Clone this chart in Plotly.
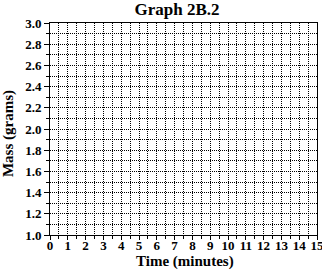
import plotly.graph_objects as go

# Axis values (empty graph paper)
x_tick_values = list(range(0, 16))
x_tick_labels = [str(v) for v in x_tick_values]
y_tick_values = [1.0, 1.2, 1.4, 1.6, 1.8, 2.0, 2.2, 2.4, 2.6, 2.8, 3.0]
y_tick_labels = ["1.0", "1.2", "1.4", "1.6", "1.8", "2.0", "2.2", "2.4", "2.6", "2.8", "3.0"]
x_range = [0, 15]
y_range = [1.0, 3.0]
x_title = "Time (minutes)"
y_title = "Mass (grams)"
chart_title = "Graph 2B.2"

FONT = "Liberation Serif"
DOT = "1px,1px"

fig = go.Figure()
fig.add_trace(go.Scatter(x=[], y=[], mode="markers", showlegend=False))

fig.update_layout(
    width=322, height=271,
    margin=dict(l=50, r=5, t=23, b=36),
    paper_bgcolor="white", plot_bgcolor="white",
    showlegend=False,
    title=dict(text=chart_title, x=0.476, xref="paper", xanchor="center",
               y=0.99, yref="container", yanchor="top",
               font=dict(family=FONT, size=17, color="black", weight="bold")),
    annotations=[
        dict(text=x_title, xref="paper", yref="paper", x=0.506, y=-0.123,
             xanchor="center", yanchor="middle", showarrow=False,
             font=dict(family=FONT, size=15, color="black", weight="bold")),
        dict(text=y_title, xref="paper", yref="paper", x=-0.158, y=0.48,
             xanchor="center", yanchor="middle", showarrow=False, textangle=-90,
             font=dict(family=FONT, size=15, color="black", weight="bold")),
    ],
)

common = dict(
    showline=True, linecolor="black", linewidth=1, mirror=True,
    ticks="outside", tickcolor="black", tickwidth=1,
    showgrid=True, gridcolor="black", gridwidth=1, griddash=DOT,
    zeroline=False, automargin=False, ticklabeloverflow="allow",
    tickfont=dict(family=FONT, size=13, color="black", weight="bold"),
)

fig.update_xaxes(
    range=x_range, tickmode="array", tickvals=x_tick_values, ticktext=x_tick_labels,
    ticklen=4, ticklabelstandoff=-6,
    minor=dict(tickmode="linear", tick0=0, dtick=0.5, ticks="outside", ticklen=3,
               tickcolor="black", showgrid=True, gridcolor="black", griddash=DOT, gridwidth=1),
    **common,
)
fig.update_yaxes(
    range=y_range, tickmode="array", tickvals=y_tick_values, ticktext=y_tick_labels,
    ticklen=5,
    minor=dict(tickmode="linear", tick0=1.0, dtick=0.1, ticks="outside", ticklen=3,
               tickcolor="black", showgrid=True, gridcolor="black", griddash=DOT, gridwidth=1),
    **common,
)

fig.write_html("out.html")
